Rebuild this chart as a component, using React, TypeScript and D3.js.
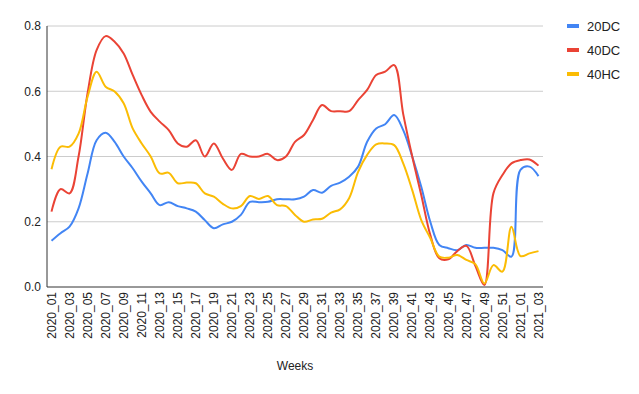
import React from 'react';
import * as d3 from 'd3';

// weeks on the x axis
const weeks = [
  '2020_01', '2020_02', '2020_03', '2020_04', '2020_05', '2020_06', '2020_07', '2020_08', '2020_09', '2020_10',
  '2020_11', '2020_12', '2020_13', '2020_14', '2020_15', '2020_16', '2020_17', '2020_18', '2020_19', '2020_20',
  '2020_21', '2020_22', '2020_23', '2020_24', '2020_25', '2020_26', '2020_27', '2020_28', '2020_29', '2020_30',
  '2020_31', '2020_32', '2020_33', '2020_34', '2020_35', '2020_36', '2020_37', '2020_38', '2020_39', '2020_40',
  '2020_41', '2020_42', '2020_43', '2020_44', '2020_45', '2020_46', '2020_47', '2020_48', '2020_49', '2020_50',
  '2020_51', '2020_52', '2021_01', '2021_02', '2021_03',
];

const values20DC = [
  0.142, 0.165, 0.185, 0.241, 0.348, 0.45, 0.473, 0.445, 0.4, 0.364,
  0.323, 0.287, 0.251, 0.26, 0.248, 0.241, 0.231, 0.205, 0.18, 0.192,
  0.2, 0.221, 0.261, 0.26, 0.261, 0.269, 0.269, 0.269, 0.277, 0.297,
  0.289, 0.31, 0.32, 0.338, 0.369, 0.445, 0.486, 0.499, 0.527, 0.481,
  0.4, 0.307, 0.2, 0.129, 0.119, 0.113, 0.129, 0.12, 0.12, 0.12,
  0.113, 0.093, 0.359, 0.369, 0.34,
];

const values40DC = [
  0.231, 0.3, 0.287, 0.4, 0.594, 0.726, 0.769, 0.752, 0.716, 0.65,
  0.588, 0.537, 0.507, 0.481, 0.44, 0.43, 0.45, 0.4, 0.44, 0.394,
  0.359, 0.408, 0.4, 0.4, 0.408, 0.389, 0.4, 0.445, 0.466, 0.512,
  0.558, 0.539, 0.539, 0.539, 0.573, 0.604, 0.65, 0.66, 0.68, 0.53,
  0.4, 0.282, 0.16, 0.088, 0.085, 0.11, 0.126, 0.065, 0.006, 0.287,
  0.343, 0.379, 0.389, 0.391, 0.372,
];

const values40HC = [
  0.361, 0.43, 0.43, 0.47, 0.583, 0.66, 0.614, 0.599, 0.563, 0.486,
  0.44, 0.4, 0.348, 0.35, 0.318, 0.32, 0.318, 0.287, 0.277, 0.255,
  0.241, 0.248, 0.279, 0.27, 0.279, 0.251, 0.248, 0.221, 0.2, 0.207,
  0.209, 0.228, 0.238, 0.272, 0.353, 0.405, 0.437, 0.44, 0.435, 0.379,
  0.297, 0.205, 0.15, 0.093, 0.09, 0.098, 0.083, 0.07, 0.011, 0.067,
  0.047, 0.185, 0.095, 0.103, 0.11,
];

const yTicks = [0, 0.2, 0.4, 0.6, 0.8];

const series = [
  { name: '20DC', color: '#4285F4', values: values20DC },
  { name: '40DC', color: '#EA4335', values: values40DC },
  { name: '40HC', color: '#FBBC04', values: values40HC },
];

const width = 639;
const height = 394;
const margin = { top: 26, right: 96, bottom: 107, left: 47 };
const font = 'Arial, "Liberation Sans", sans-serif';

const App: React.FC = () => {
  const svgRef = React.useRef<SVGSVGElement>(null);

  React.useEffect(() => {
    const innerW = width - margin.left - margin.right;
    const innerH = height - margin.top - margin.bottom;

    const xScale = d3.scaleBand().domain(weeks).range([0, innerW]);
    const yScale = d3.scaleLinear().domain([0, 0.8]).range([innerH, 0]);
    const xPos = (w: string) => (xScale(w) as number) + xScale.bandwidth() / 2;

    const svgEl = d3.select(svgRef.current);
    svgEl.selectAll('*').remove();
    svgEl.append('rect').attr('width', width).attr('height', height).attr('fill', '#fff');

    const svg = svgEl
      .append('g')
      .attr('transform', `translate(${margin.left},${margin.top})`);

    // horizontal grid lines
    svg
      .append('g')
      .selectAll('line')
      .data(yTicks.filter((t) => t > 0))
      .enter()
      .append('line')
      .attr('x1', 0)
      .attr('x2', innerW)
      .attr('y1', (d) => yScale(d))
      .attr('y2', (d) => yScale(d))
      .attr('stroke', '#cccccc')
      .attr('stroke-width', 1);

    // y axis labels
    const yAxis = d3
      .axisLeft(yScale)
      .tickValues(yTicks)
      .tickSize(0)
      .tickPadding(6)
      .tickFormat((v) => d3.format('.1f')(v as number));
    const yAxisGroup = svg.append('g').call(yAxis);
    yAxisGroup.select('.domain').remove();
    yAxisGroup
      .selectAll('text')
      .attr('fill', '#222')
      .attr('font-size', '12px')
      .attr('font-family', font);

    // x axis labels, rotated
    const xAxis = d3
      .axisBottom(xScale)
      .tickValues(weeks.filter((_, i) => i % 2 === 0))
      .tickSize(0)
      .tickPadding(0);
    const xAxisGroup = svg
      .append('g')
      .attr('transform', `translate(0,${innerH})`)
      .call(xAxis);
    xAxisGroup.select('.domain').remove();
    xAxisGroup
      .selectAll('text')
      .attr('fill', '#222')
      .attr('font-size', '12px')
      .attr('font-family', font)
      .attr('text-anchor', 'end')
      .attr('transform', 'translate(0,5) rotate(-90)')
      .attr('x', 0)
      .attr('y', 0)
      .attr('dy', '0.35em');

    // lines
    const line = d3
      .line<number>()
      .x((_, i) => xPos(weeks[i]))
      .y((d) => yScale(d))
      .curve(d3.curveCatmullRom.alpha(0.5));

    svg
      .append('g')
      .selectAll('path')
      .data(series)
      .enter()
      .append('path')
      .attr('fill', 'none')
      .attr('stroke', (d) => d.color)
      .attr('stroke-width', 2)
      .attr('stroke-linejoin', 'round')
      .attr('d', (d) => line(d.values));

    // axis lines on top
    svg
      .append('line')
      .attr('x1', 0)
      .attr('x2', innerW)
      .attr('y1', innerH)
      .attr('y2', innerH)
      .attr('stroke', '#333')
      .attr('stroke-width', 1);
    svg
      .append('line')
      .attr('x1', 0)
      .attr('x2', 0)
      .attr('y1', 0)
      .attr('y2', innerH)
      .attr('stroke', '#333')
      .attr('stroke-width', 1);

    // x axis title
    svgEl
      .append('text')
      .attr('x', margin.left + innerW / 2)
      .attr('y', 370)
      .attr('text-anchor', 'middle')
      .attr('fill', '#222')
      .attr('font-size', '12px')
      .attr('font-family', font)
      .text('Weeks');

    // legend
    const legend = svgEl
      .append('g')
      .attr('transform', `translate(567,26)`)
      .selectAll('g')
      .data(series)
      .enter()
      .append('g')
      .attr('transform', (_, i) => `translate(0,${i * 24})`);
    legend
      .append('rect')
      .attr('x', 0)
      .attr('y', -2)
      .attr('width', 12)
      .attr('height', 4)
      .attr('fill', (d) => d.color);
    legend
      .append('text')
      .attr('x', 20)
      .attr('y', 0)
      .attr('dy', '0.35em')
      .attr('fill', '#222')
      .attr('font-size', '13px')
      .attr('font-family', font)
      .text((d) => d.name);
  }, []);

  return (
    <svg
      ref={svgRef}
      width={width}
      height={height}
      style={{ position: 'absolute', left: 0, top: 0 }}
    />
  );
};

export default App;
